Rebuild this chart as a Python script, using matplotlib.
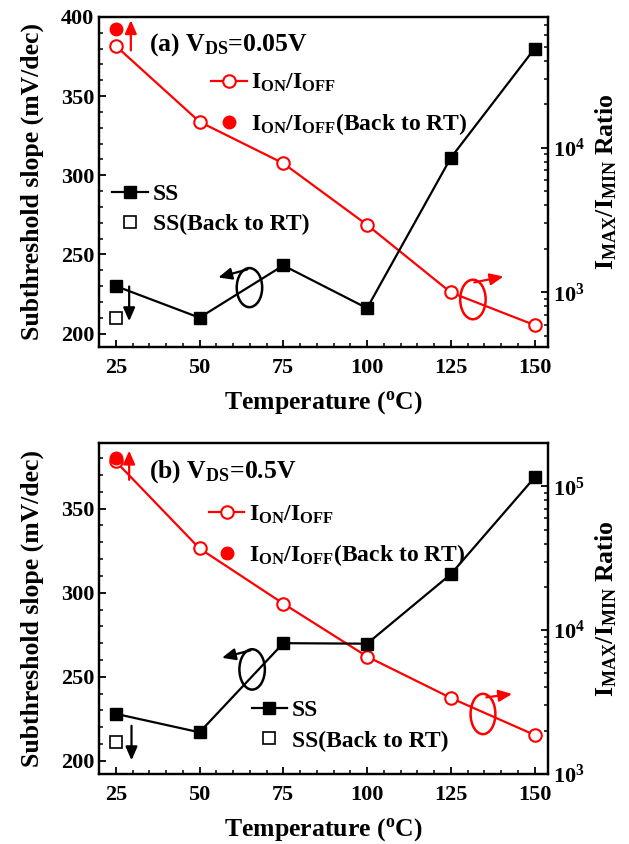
import matplotlib
matplotlib.use('Agg')
import matplotlib.pyplot as plt
from matplotlib.patches import Ellipse
from matplotlib.ticker import MultipleLocator, LogLocator, NullFormatter

plt.rcParams['font.family'] = ['Liberation Serif', 'DejaVu Serif']
plt.rcParams['font.weight'] = 'bold'
plt.rcParams['mathtext.fontset'] = 'custom'
plt.rcParams['mathtext.rm'] = 'Liberation Serif:bold'
plt.rcParams['mathtext.bf'] = 'Liberation Serif:bold'
plt.rcParams['mathtext.it'] = 'Liberation Serif:bold'
plt.rcParams['mathtext.default'] = 'rm'

# ---------------- data ----------------
temps = [25, 50, 75, 100, 125, 150]
ss_a = [230, 210, 243, 216, 311, 380]
ratio_a = [50500, 15100, 7800, 2930, 1000, 595]
ss_a_rt = 210
ratio_a_rt = 66500

ss_b = [228, 217, 270, 269.7, 311, 368.5]
ratio_b = [149000, 37000, 15300, 6560, 3380, 1870]
ss_b_rt = 211
ratio_b_rt = 158000

x_ticks = [25, 50, 75, 100, 125, 150]
title_a = r'(a) V$_{\rm DS}$=0.05V'
title_b = r'(b) V$_{\rm DS}$=0.5V'
lbl_ratio = r'I$_{\rm ON}$/I$_{\rm OFF}$'
lbl_ratio_rt = r'I$_{\rm ON}$/I$_{\rm OFF}$(Back to RT)'
lbl_ss = 'SS'
lbl_ss_rt = 'SS(Back to RT)'
xlabel = r'Temperature ($^{\rm o}$C)'
ylabel_l = 'Subthreshold slope (mV/dec)'
ylabel_r = r'I$_{\rm MAX}$/I$_{\rm MIN}$ Ratio'

RED = '#ff0000'
fig = plt.figure(figsize=(6.29, 8.44), dpi=100)

FS_TICK = 16
FS_LAB = 18.5
FS_LEG = 17


def panel(rect, ss, ratio, ss_rt, ratio_rt, ylim_l, ylim_r, yticks_l, title,
          red_leg_anchor, blk_leg_anchor, arrows, ellipses):
    ax = fig.add_axes(rect)
    ax2 = ax.twinx()
    ax.set_zorder(ax2.get_zorder() + 1)
    ax.patch.set_visible(False)

    ax2.set_yscale('log')
    l2, = ax2.plot(temps, ratio, '-o', color=RED, lw=1.6, ms=9, mfc='white', mec=RED, mew=1.5)
    p2, = ax2.plot([temps[0]], [ratio_rt], 'o', color=RED, ms=9, mec=RED)
    l1, = ax.plot(temps, ss, '-s', color='black', lw=1.6, ms=9, mfc='black')
    p1, = ax.plot([temps[0]], [ss_rt], 's', ms=8, mfc='white', mec='black', mew=1.2)

    ax.set_xlim(20, 154)
    ax.set_ylim(*ylim_l)
    ax2.set_ylim(*ylim_r)
    ax.set_xticks(x_ticks)
    ax.set_yticks(yticks_l)
    ax.xaxis.set_minor_locator(MultipleLocator(5))
    ax.yaxis.set_minor_locator(MultipleLocator(10))
    ax2.yaxis.set_major_locator(LogLocator(base=10))
    ax2.yaxis.set_minor_locator(LogLocator(base=10, subs=range(2, 10)))
    ax2.yaxis.set_minor_formatter(NullFormatter())

    for a in (ax, ax2):
        for s in a.spines.values():
            s.set_linewidth(1.6)
        a.tick_params(which='major', direction='in', length=5, width=1.3, labelsize=FS_TICK)
        a.tick_params(which='minor', direction='in', length=3, width=1.1)
    ax.tick_params(axis='x', which='major', pad=8)
    ax.tick_params(axis='y', which='both', right=False)
    ax.tick_params(axis='x', which='both', top=False)
    ax2.tick_params(axis='y', which='both', left=False)
    for t in ax.get_xticklabels() + ax.get_yticklabels() + ax2.get_yticklabels():
        t.set_fontweight('bold')

    ax.set_xlabel(xlabel, fontsize=FS_LAB, fontweight='bold', labelpad=8)
    ax.set_ylabel(ylabel_l, fontsize=FS_LAB, fontweight='bold', labelpad=12)
    ax2.set_ylabel(ylabel_r, fontsize=FS_LAB, fontweight='bold', labelpad=6)

    ax.text(0.112, 0.915, title, transform=ax.transAxes,
            fontsize=18.5, fontweight='bold', va='center', ha='left')

    leg1 = ax.legend([l2, p2], [lbl_ratio, lbl_ratio_rt], loc='upper left',
                     bbox_to_anchor=red_leg_anchor, frameon=False, fontsize=FS_LEG,
                     handlelength=1.5, handletextpad=0.2, labelspacing=0.7,
                     borderpad=0, borderaxespad=0)
    ax.add_artist(leg1)
    ax.legend([l1, p1], [lbl_ss, lbl_ss_rt], loc='upper left',
              bbox_to_anchor=blk_leg_anchor, frameon=False, fontsize=FS_LEG,
              handlelength=1.5, handletextpad=0.2, labelspacing=0.38,
              borderpad=0, borderaxespad=0)

    for (axn, xy0, xy1, col) in arrows:
        target = ax2 if axn == 'r' else ax
        target.annotate('', xy=xy1, xytext=xy0,
                        arrowprops=dict(arrowstyle='-|>,head_length=0.5,head_width=0.22',
                                        color=col, lw=1.6,
                                        mutation_scale=16, shrinkA=0, shrinkB=0))
    for (cx, cy, w, h, col) in ellipses:
        ax.add_patch(Ellipse((cx, cy), w, h, fill=False, ec=col, lw=1.8))
    return ax, ax2


# panel (a)
panel([0.1574, 0.5889, 0.7138, 0.391], ss_a, ratio_a, ss_a_rt, ratio_a_rt,
      (191.5, 400), (420, 80000), [200, 250, 300, 350, 400], title_a,
      (0.25, 0.833), (0.03, 0.496),
      [('r', (29.5, 47000), (29.5, 76000), RED),
       ('l', (29, 229.7), (29, 207.8), 'black'),
       ('l', (64.3, 240.5), (55.6, 235.4), 'black'),
       ('l', (132, 232.3), (140.7, 236), RED)],
      [(64.9, 229, 7.6, 24.7, 'black'), (131.6, 221.5, 7.6, 25, RED)])

# panel (b)
panel([0.1574, 0.0829, 0.7138, 0.3922], ss_b, ratio_b, ss_b_rt, ratio_b_rt,
      (192.2, 389), (1000, 200000), [200, 250, 300, 350], title_b,
      (0.245, 0.818), (0.34, 0.225),
      [('r', (29, 111000), (29, 177000), RED),
       ('l', (29.7, 220.9), (29.7, 200.4), 'black'),
       ('l', (65.2, 265.7), (56.7, 261.3), 'black'),
       ('l', (135.6, 237.8), (143.3, 239.8), RED)],
      [(65.7, 254.4, 7.6, 24, 'black'), (134.6, 227.9, 7.4, 24, RED)])

fig.savefig('out.png', dpi=100)
